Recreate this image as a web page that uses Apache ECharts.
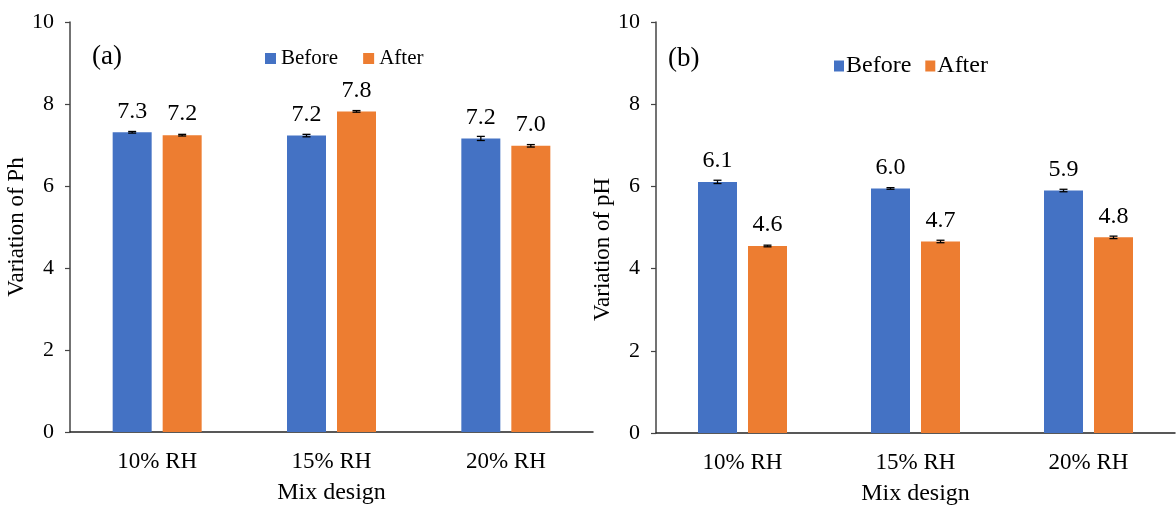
<!DOCTYPE html>
<html>
<head>
<meta charset="utf-8">
<script src="https://cdn.jsdelivr.net/npm/echarts@6/dist/echarts.min.js"></script>
<style>html,body{margin:0;padding:0;background:#fff;}#c{width:1176px;height:506px;}</style>
</head>
<body>
<div id="c"></div>
<script>
const categories = ['10% RH', '15% RH', '20% RH'];
const yTicks = [0, 2, 4, 6, 8, 10];
// Panel (a)
const aBefore = [7.31, 7.23, 7.16];
const aAfter = [7.24, 7.82, 6.98];
const aBeforeErr = [0.02, 0.03, 0.05];
const aAfterErr = [0.02, 0.02, 0.03];
const aBeforeLabels = ['7.3', '7.2', '7.2'];
const aAfterLabels = ['7.2', '7.8', '7.0'];
// Panel (b)
const bBefore = [6.11, 5.95, 5.90];
const bAfter = [4.55, 4.66, 4.76];
const bBeforeErr = [0.04, 0.02, 0.03];
const bAfterErr = [0.02, 0.03, 0.03];
const bBeforeLabels = ['6.1', '6.0', '5.9'];
const bAfterLabels = ['4.6', '4.7', '4.8'];

const FONT = '"Liberation Serif", "Times New Roman", serif';
const BLUE = '#4472C4', ORANGE = '#ED7D31';
const BAR_W = 39, BAR_GAP = 11;

const chart = echarts.init(document.getElementById('c'), null, {renderer: 'canvas'});

function xAxisDef(gi) {
  return {
    type: 'category', gridIndex: gi, data: categories,
    axisLine: {lineStyle: {color: '#222', width: 1.5}},
    axisTick: {show: false},
    axisLabel: {color: '#000', fontFamily: FONT, fontSize: 23, margin: 18},
    name: 'Mix design', nameLocation: 'middle', nameGap: 49,
    nameTextStyle: {color: '#000', fontFamily: FONT, fontSize: 24}
  };
}
function yAxisDef(gi, name, gap, pad) {
  return {
    type: 'value', gridIndex: gi, min: 0, max: 10, interval: 2,
    axisLine: {show: true, lineStyle: {color: '#444', width: 1.5}},
    axisTick: {show: true, length: 5, lineStyle: {color: '#444', width: 1.2}},
    splitLine: {show: false},
    axisLabel: {color: '#000', fontFamily: FONT, fontSize: 22, margin: 16,
      formatter: v => yTicks.includes(v) ? String(v) : ''},
    name: name, nameLocation: 'middle', nameGap: gap,
    nameTextStyle: {color: '#000', fontFamily: FONT, fontSize: 23, padding: pad}
  };
}
function barSeries(name, gi, values, labels, color) {
  return {
    type: 'bar', name: name, xAxisIndex: gi, yAxisIndex: gi,
    data: values, barWidth: BAR_W, barGap: (BAR_GAP / BAR_W * 100) + '%',
    itemStyle: {color: color},
    label: {show: true, position: 'top', distance: 9, color: '#000',
      fontFamily: FONT, fontSize: 24,
      formatter: p => labels[p.dataIndex]},
    z: 2
  };
}
function errSeries(gi, values, errs, side) {
  const off = side * (BAR_W + BAR_GAP) / 2;
  return {
    type: 'custom', xAxisIndex: gi, yAxisIndex: gi, z: 5, silent: true,
    data: values.map((v, i) => [i, v, errs[i]]),
    renderItem: function (params, api) {
      const i = api.value(0), v = api.value(1), e = api.value(2);
      const hi = api.coord([i, v + e]);
      const lo = api.coord([i, v - e]);
      const x = hi[0] + off, cw = 4;
      const st = {stroke: '#000', lineWidth: 1.3};
      return {type: 'group', children: [
        {type: 'line', shape: {x1: x, y1: hi[1], x2: x, y2: lo[1]}, style: st},
        {type: 'line', shape: {x1: x - cw, y1: hi[1], x2: x + cw, y2: hi[1]}, style: st},
        {type: 'line', shape: {x1: x - cw, y1: lo[1], x2: x + cw, y2: lo[1]}, style: st}
      ]};
    }
  };
}

chart.setOption({
  backgroundColor: '#fff',
  animation: false,
  title: [
    {text: '(a)', left: 87, top: 38, textStyle: {fontFamily: FONT, fontSize: 27, fontWeight: 'normal', color: '#000'}},
    {text: '(b)', left: 663, top: 40, textStyle: {fontFamily: FONT, fontSize: 27, fontWeight: 'normal', color: '#000'}}
  ],
  legend: [
    {left: 260, top: 43, icon: 'rect', itemWidth: 11, itemHeight: 11, itemGap: 25,
      data: ['Before', 'After'],
      textStyle: {fontFamily: FONT, fontSize: 21, color: '#000', padding: [0, 0, 0, 0]}},
    {left: 829, top: 49, icon: 'rect', itemWidth: 10, itemHeight: 11, itemGap: 14,
      data: ['Before', 'After'],
      textStyle: {fontFamily: FONT, fontSize: 24, color: '#000', padding: [0, 0, 0, -3]}}
  ],
  grid: [
    {left: 70, width: 523, top: 22, height: 410, outerBoundsMode: 'none', containLabel: false},
    {left: 656, width: 519, top: 22, height: 411, outerBoundsMode: 'none', containLabel: false}
  ],
  xAxis: [xAxisDef(0), xAxisDef(1)],
  yAxis: [yAxisDef(0, 'Variation of Ph', 32, [0, 0, 0, 0]), yAxisDef(1, 'Variation of pH', 41, [0, 44, 0, 0])],
  series: [
    barSeries('Before', 0, aBefore, aBeforeLabels, BLUE),
    barSeries('After', 0, aAfter, aAfterLabels, ORANGE),
    errSeries(0, aBefore, aBeforeErr, -1),
    errSeries(0, aAfter, aAfterErr, 1),
    barSeries('Before', 1, bBefore, bBeforeLabels, BLUE),
    barSeries('After', 1, bAfter, bAfterLabels, ORANGE),
    errSeries(1, bBefore, bBeforeErr, -1),
    errSeries(1, bAfter, bAfterErr, 1)
  ]
});
</script>
</body>
</html>
